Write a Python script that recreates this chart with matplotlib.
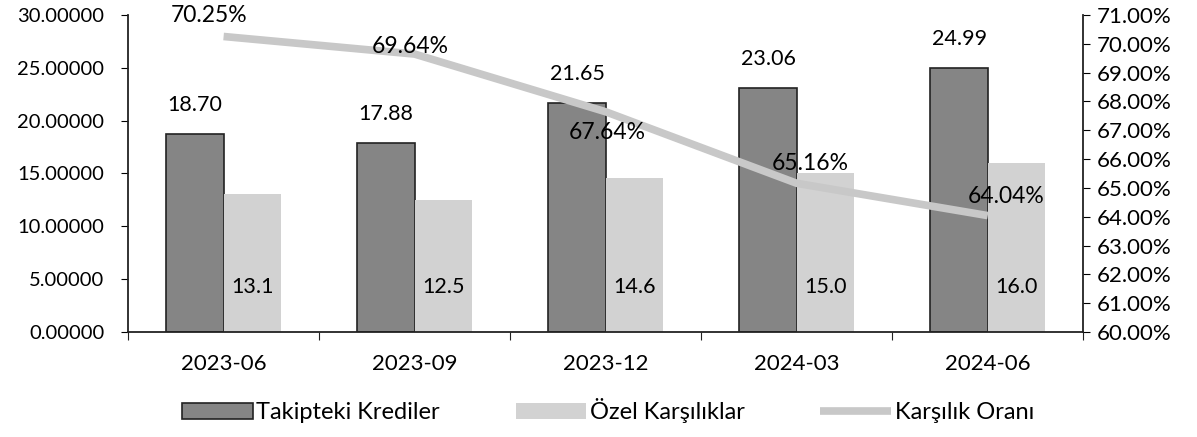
import numpy as np
import matplotlib
matplotlib.use('Agg')
import matplotlib.pyplot as plt
from matplotlib.ticker import FuncFormatter

plt.rcParams['font.family'] = ['Lato', 'DejaVu Sans']
plt.rcParams['font.size'] = 15

periods = ['2023-06', '2023-09', '2023-12', '2024-03', '2024-06']
takipteki = [18.70, 17.88, 21.65, 23.06, 24.99]
ozel = [13.1, 12.5, 14.6, 15.0, 16.0]
oran = [70.25, 69.64, 67.64, 65.16, 64.04]

# label offsets for the ratio line (px)
oran_off = [(-15, 21), (-4, 8), (2, -21), (14, 20), (18, 19)]

fig = plt.figure(figsize=(11.97, 4.37), dpi=100)
ax = fig.add_axes([0.107, 0.240, 0.798, 0.726])
ax2 = ax.twinx()

x = np.arange(len(periods))
w = 0.3
b1 = ax.bar(x - w / 2, takipteki, w, color='#858585', edgecolor='#222222', linewidth=1.2,
            label='Takipteki Krediler', zorder=2)
b2 = ax.bar(x + w / 2, ozel, w, color='#d2d2d2', edgecolor='none',
            label='Özel Karşılıklar', zorder=2)

for xi, v in zip(x, takipteki):
    ax.annotate(f'{v:.2f}', (xi - w / 2, v), xytext=(0, 21), textcoords='offset points',
                ha='center', va='center', fontsize=15.5)
for xi, v in zip(x, ozel):
    ax.text(xi + w / 2, 4.3, f'{v:.1f}', ha='center', va='center', fontsize=15.5)

ln, = ax2.plot(x, oran, color='#c8c8c8', linewidth=5.5, solid_capstyle='butt',
               label='Karşılık Oranı', zorder=3)
for xi, v, off in zip(x, oran, oran_off):
    ax2.annotate(f'{v:.2f}%', (xi, v), xytext=(off[0] * 0.72, off[1] * 0.72),
                 textcoords='offset points', ha='center', va='center', fontsize=16.5)

ax.set_xlim(-0.5, len(periods) - 0.5)
ax.set_ylim(0, 30)
ax.set_yticks(np.arange(0, 31, 5))
ax.yaxis.set_major_formatter(FuncFormatter(lambda v, p: f'{v:.5f}'))
ax2.set_ylim(60, 71)
ax2.set_yticks(np.arange(60, 72, 1))
ax2.yaxis.set_major_formatter(FuncFormatter(lambda v, p: f'{v:.2f}%'))

ax.set_xticks(np.arange(-0.5, len(periods), 1))
ax.set_xticklabels([])
ax.set_xticks(x, minor=True)
ax.set_xticklabels(periods, minor=True, fontsize=16)
ax.tick_params(axis='x', which='major', length=6, direction='out', color='#222222')
ax.tick_params(axis='x', which='minor', length=0, pad=16)
ax.tick_params(axis='y', length=5, direction='out', pad=12, labelsize=14.5)
ax2.tick_params(axis='y', length=5, direction='out', labelsize=16, pad=5)

for a in (ax, ax2):
    a.spines['top'].set_visible(False)
    for s in ('left', 'right', 'bottom'):
        a.spines[s].set_linewidth(1.3)
        a.spines[s].set_color('#222222')
ax.spines['right'].set_visible(False)
ax2.spines['left'].set_visible(False)
ax2.spines['bottom'].set_visible(False)

ax.set_zorder(ax2.get_zorder() - 1)
ax.patch.set_visible(False)
ax2.patch.set_visible(False)

fig.legend([b1, b2, ln], ['Takipteki Krediler', 'Özel Karşılıklar', 'Karşılık Oranı'],
           loc='center', bbox_to_anchor=(0.508, 0.06), ncol=3, frameon=False,
           fontsize=17, columnspacing=3.2, handlelength=3.0, handletextpad=0.15)

fig.savefig('out.png', dpi=100)
